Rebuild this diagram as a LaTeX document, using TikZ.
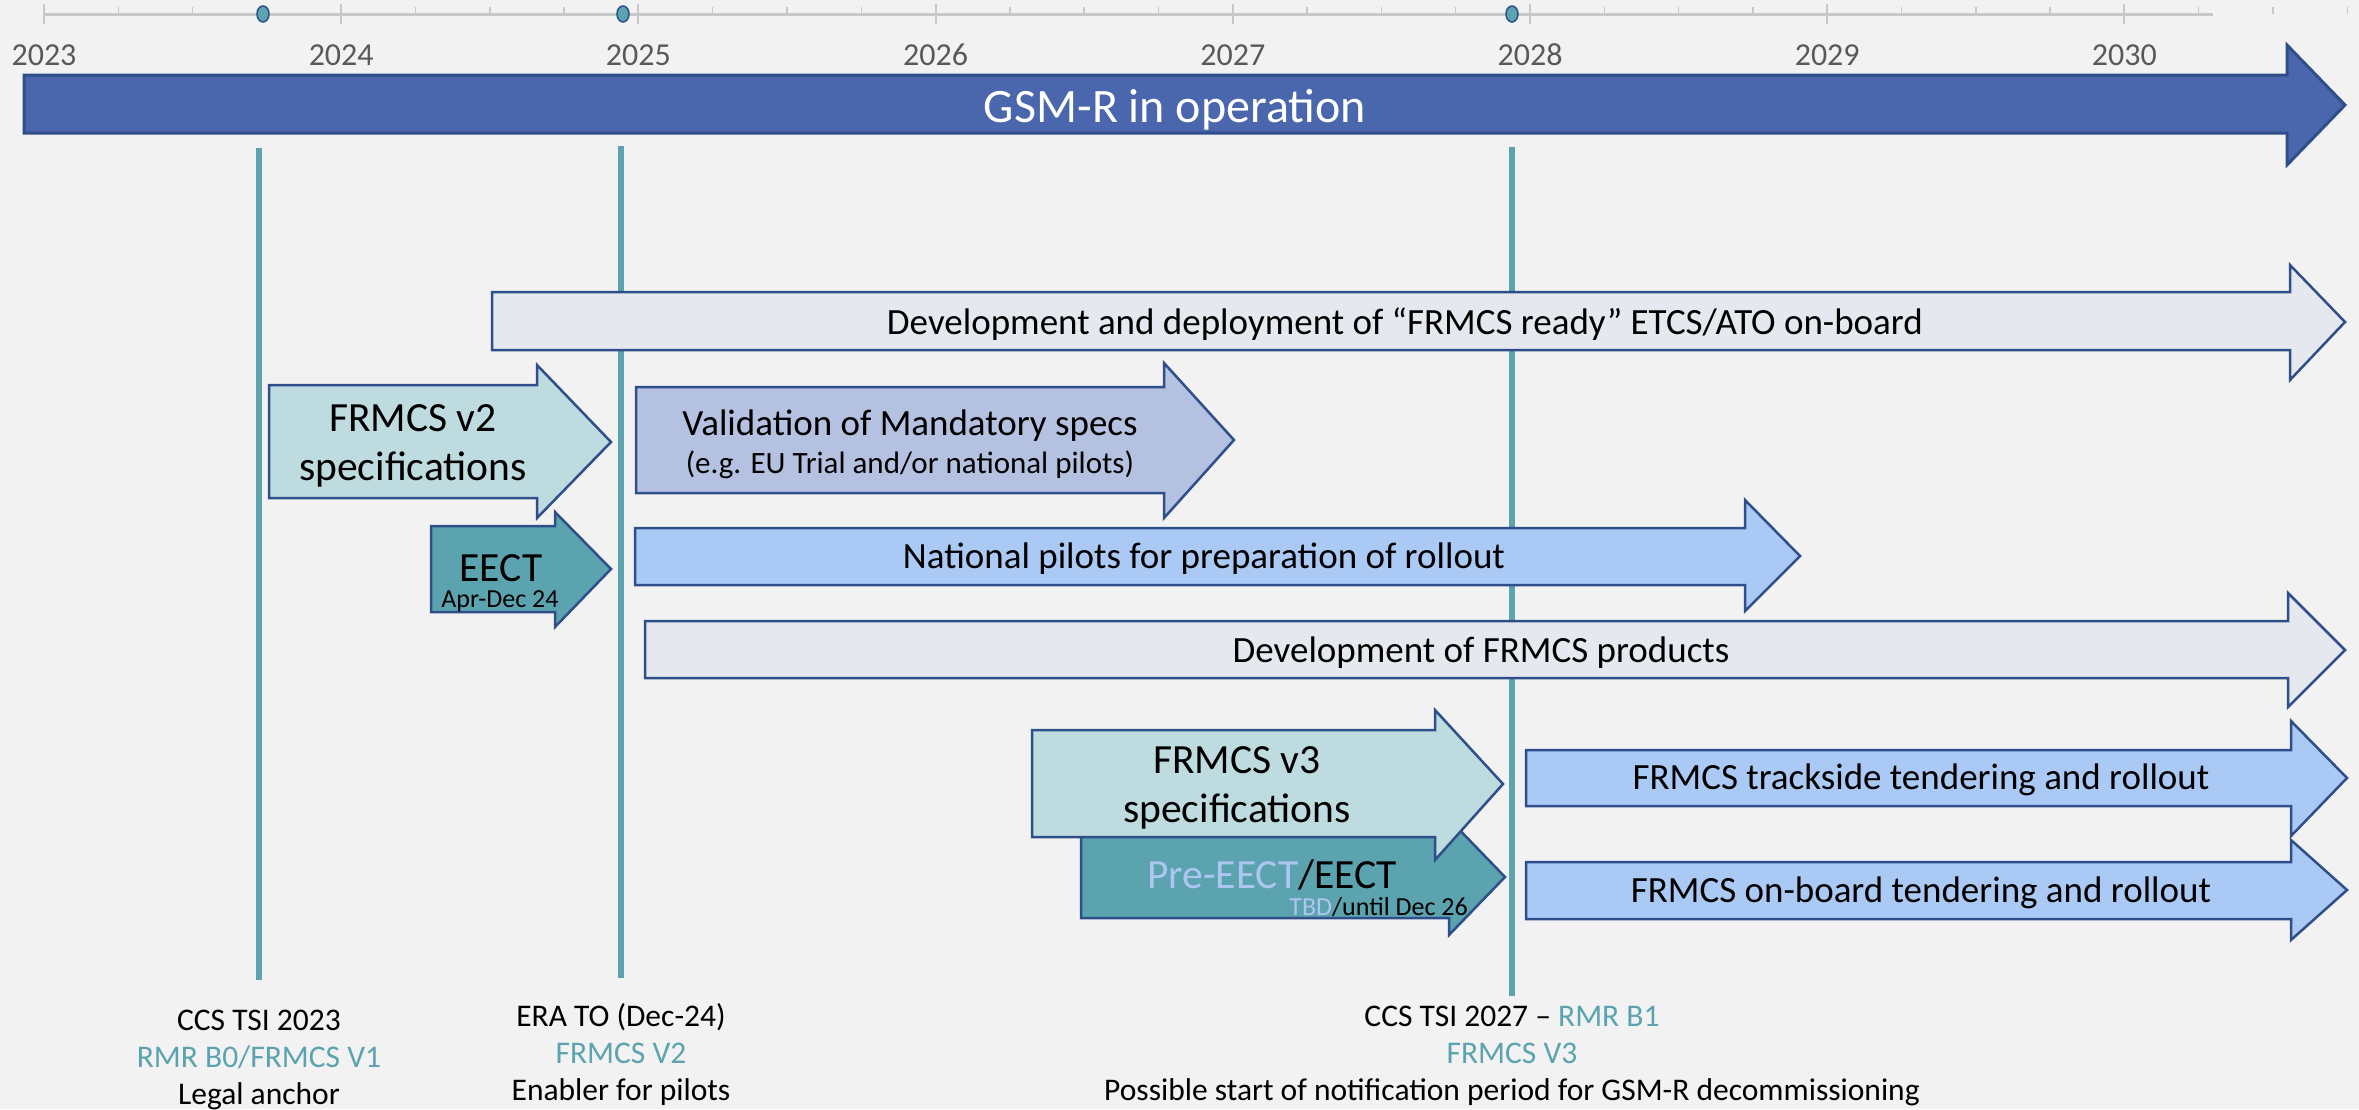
\documentclass[tikz,border=0pt]{standalone}
\usepackage{fontspec}
\setmainfont{Carlito}
\usetikzlibrary{shapes.geometric}
\definecolor{bg}{HTML}{F2F2F2}
\definecolor{gsmblue}{HTML}{4A66AC}
\definecolor{edgeblue}{HTML}{2F4F8A}
\definecolor{palegray}{HTML}{E5E8EE}
\definecolor{lightteal}{HTML}{BEDBDF}
\definecolor{teal}{HTML}{5BA3AF}
\definecolor{lavender}{HTML}{B4C1E0}
\definecolor{lightblue}{HTML}{ABC9F5}
\definecolor{paleblue}{HTML}{ADC6F0}
\definecolor{axisgray}{HTML}{C8C8C8}
\definecolor{yeargray}{HTML}{595959}
\newcommand\blockarrow[9]{%
  \draw[#1] (#2,#3) -- (#5,#3) -- (#5,#6) -- (#8,#9) -- (#5,#7) -- (#5,#4) -- (#2,#4) -- cycle;}
\begin{document}
\begin{tikzpicture}[x=1pt,y=-1pt,
  arrowshape/.style={draw=edgeblue,line width=2.5pt,line join=miter},
  milestone/.style={draw=teal,line width=6pt},
  bodytxt/.style={inner sep=0pt,anchor=base,font=\fontsize{37}{44}\selectfont},
  bigtxt/.style={inner sep=0pt,anchor=base,font=\fontsize{41.5}{49}\selectfont},
  smalltxt/.style={inner sep=0pt,anchor=base,font=\fontsize{26}{30}\selectfont},
  labeltxt/.style={inner sep=0pt,anchor=base,font=\fontsize{31.5}{37}\selectfont},
  yeartxt/.style={inner sep=0pt,anchor=base,text=yeargray,font=\fontsize{32}{38}\selectfont},
  dotmark/.style={draw=edgeblue,fill=teal,line width=1.5pt,ellipse,minimum width=12pt,minimum height=16pt,inner sep=0pt}
]
\useasboundingbox (0,0) rectangle (2359,1109);
\fill[bg] (0,0) rectangle (2359,1109);

% ---- time axis ----
\coordinate (axstart) at (44,14);
\coordinate (axend) at (2213,14);
\draw[axisgray,line width=3pt] (axstart) -- (axend);
\foreach \k in {0,...,7}{
  \draw[axisgray,line width=2pt] ({44+297.2*\k},4) -- ({44+297.2*\k},24);
  \pgfmathtruncatemacro{\yr}{2023+\k}
  \node[yeartxt] (yr\k) at ({44+297.2*\k},65) {\yr};
}
\foreach \k in {0,...,7}{
  \foreach \q in {1,2,3}{
    \draw[axisgray,line width=1.5pt] ({44+297.2*(\k+\q/4)},7) -- ({44+297.2*(\k+\q/4)},14);
  }
}

% ---- milestone lines (behind the arrows) ----
\coordinate (m1top) at (259,148);
\coordinate (m1bot) at (259,980);
\coordinate (m2top) at (621,146);
\coordinate (m2bot) at (621,978);
\coordinate (m3top) at (1512,147);
\coordinate (m3bot) at (1512,996);
\draw[milestone] (m1top) -- (m1bot);
\draw[milestone] (m2top) -- (m2bot);
\draw[milestone] (m3top) -- (m3bot);

\node[dotmark] (dot1) at (263,14) {};
\node[dotmark] (dot2) at (623,14) {};
\node[dotmark] (dot3) at (1512,14) {};

% ---- GSM-R bar ----
\blockarrow{arrowshape,fill=gsmblue,line width=3pt}{24}{75}{133}{2287}{45}{165}{2345}{105}
\node[inner sep=0pt,anchor=base,text=white,font=\fontsize{48}{56}\selectfont] (gsm) at (1175,122) {GSM-R in operation};

% ---- Development and deployment ----
\blockarrow{arrowshape,fill=palegray}{492}{292}{350}{2290}{265}{380}{2345}{322}
\node[bodytxt] (devdep) at (1405,334) {Development and deployment of “FRMCS ready” ETCS/ATO on-board};

% ---- FRMCS v2 specifications ----
\blockarrow{arrowshape,fill=lightteal}{269}{385}{498}{537}{365}{518}{611}{442}
\node[bigtxt] (v2a) at (413,431) {FRMCS v2};
\node[bigtxt] (v2b) at (413,480) {specifications};

% ---- EECT ----
\blockarrow{arrowshape,fill=teal}{431}{526}{612}{555}{512}{627}{611}{569}
\node[bigtxt] (eect) at (501,581) {EECT};
\node[smalltxt] (eectdate) at (500,607) {Apr-Dec 24};

% ---- Validation ----
\blockarrow{arrowshape,fill=lavender}{636}{387}{493}{1164}{363}{518}{1234}{440}
\node[bodytxt] (valid) at (910,435) {Validation of Mandatory specs};
\node[inner sep=0pt,anchor=base,font=\fontsize{31}{36}\selectfont] (validsub) at (910,473) {(e.g. EU Trial and/or national pilots)};

% ---- National pilots ----
\blockarrow{arrowshape,fill=lightblue}{635}{528}{585}{1745}{500}{611}{1800}{556}
\node[bodytxt] (natpil) at (1204,568) {National pilots for preparation of rollout};

% ---- Development of FRMCS products ----
\blockarrow{arrowshape,fill=palegray}{645}{621}{678}{2288}{593}{707}{2345}{650}
\node[bodytxt] (devprod) at (1481,662) {Development of FRMCS products};

% ---- Pre-EECT / EECT (behind v3) ----
\blockarrow{arrowshape,fill=teal}{1081}{836}{918}{1449}{819}{935}{1505}{877}
\node[bigtxt] (preeect) at (1272,888) {\textcolor{paleblue}{Pre-EECT}/EECT};
\node[smalltxt,anchor=base east] (preeectdate) at (1468,915) {\textcolor{paleblue}{TBD}/until Dec 26};

% ---- FRMCS v3 specifications ----
\blockarrow{arrowshape,fill=lightteal}{1032}{730}{837}{1435}{710}{860}{1503}{784}
\node[bigtxt] (v3a) at (1237,773) {FRMCS v3};
\node[bigtxt] (v3b) at (1237,822) {specifications};

% ---- Trackside / On-board ----
\blockarrow{arrowshape,fill=lightblue}{1526}{750}{806}{2291}{721}{836}{2347}{778}
\node[bodytxt] (track) at (1921,789) {FRMCS trackside tendering and rollout};
\blockarrow{arrowshape,fill=lightblue}{1526}{862}{919}{2291}{840}{940}{2347}{890}
\node[bodytxt] (onboard) at (1921,902) {FRMCS on-board tendering and rollout};

% ---- bottom labels ----
\node[labeltxt] (l1a) at (259,1030) {CCS TSI 2023};
\node[labeltxt,text=teal] (l1b) at (259,1067) {RMR B0/FRMCS V1};
\node[labeltxt] (l1c) at (259,1104) {Legal anchor};

\node[labeltxt] (l2a) at (621,1026) {ERA TO (Dec-24)};
\node[labeltxt,text=teal] (l2b) at (621,1063) {FRMCS V2};
\node[labeltxt] (l2c) at (621,1100) {Enabler for pilots};

\node[labeltxt] (l3a) at (1512,1026) {CCS TSI 2027 – \textcolor{teal}{RMR B1}};
\node[labeltxt,text=teal] (l3b) at (1512,1063) {FRMCS V3};
\node[labeltxt] (l3c) at (1512,1100) {Possible start of notification period for GSM-R decommissioning};
\end{tikzpicture}
\end{document}
